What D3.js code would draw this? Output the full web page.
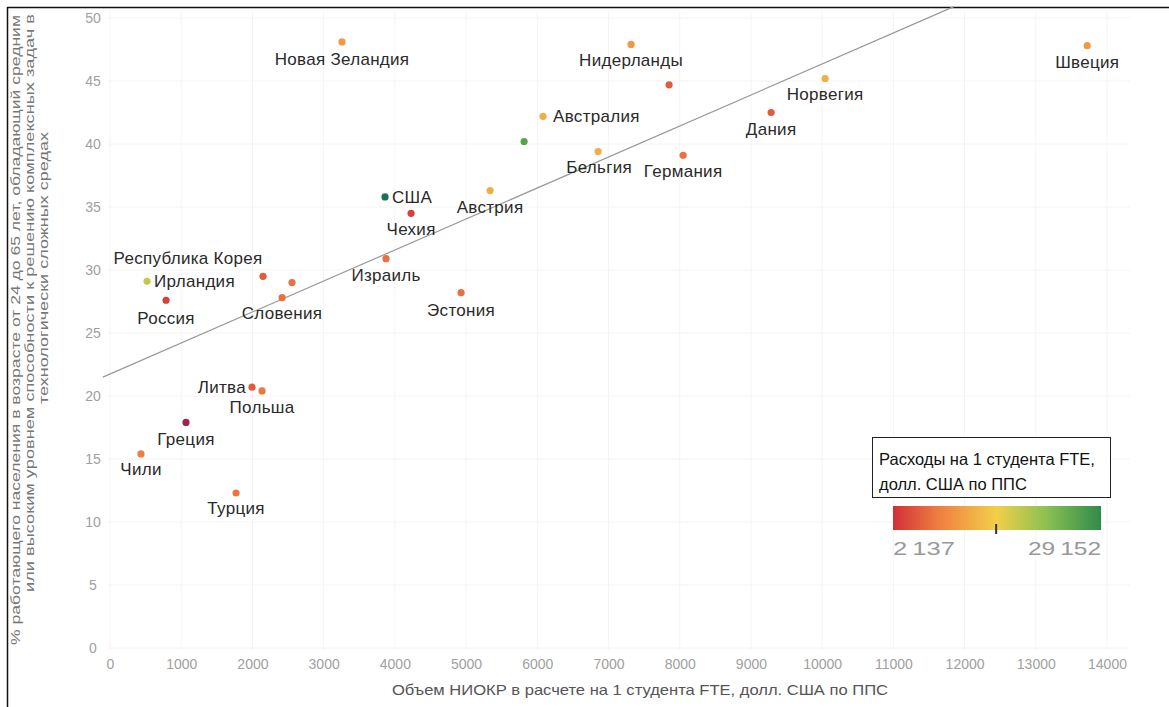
<!DOCTYPE html>
<html><head><meta charset="utf-8">
<script src="https://cdn.jsdelivr.net/npm/d3@7"></script>
<style>
html,body{margin:0;padding:0;background:#fff;}
svg{display:block;font-family:"Liberation Sans",Arial,sans-serif;}
</style></head>
<body>
<svg id="chart" width="1169" height="707"></svg>
<script>
// ---- data ----
const countries = ["Новая Зеландия","Нидерланды","Швеция","","Норвегия","Австралия","Дания","","Бельгия","Германия","Австрия","США","Чехия","Израиль","Эстония","Ирландия","Республика Корея","","Россия","Словения","Литва","Польша","Греция","Чили","Турция"];
const rdPerStudent = [3258,7317,13722,7851,10042,6081,9284,5815,6854,8048,5337,3862,4228,3876,4930,520,2149,2556,787,2416,1994,2135,1067,435,1770];
const skillShare  = [48.1,47.9,47.8,44.7,45.2,42.2,42.5,40.2,39.4,39.1,36.3,35.8,34.5,30.9,28.2,29.1,29.5,29.0,27.6,27.8,20.7,20.4,17.9,15.4,12.3];
const spending    = [10500,10500,10500,5500,12500,12500,5500,26000,12500,7000,12500,31000,3500,7000,7000,18500,5500,7000,3500,7000,5500,7500,1200,8000,7500];
const xTicks = [0,1000,2000,3000,4000,5000,6000,7000,8000,9000,10000,11000,12000,13000,14000];
const yTicks = [0,5,10,15,20,25,30,35,40,45,50];
const trendLine = [[-100,21.5],[11850,50.9]];
const legendRange = [2137, 29152];
const legendMarker = 15600;
const xTitle = "Объем НИОКР в расчете на 1 студента FTE, долл. США по ППС";
const yTitle = ["% работающего населения в возрасте от 24 до 65 лет, обладающий средним","или высоким уровнем способности к решению комплексных задач в","технологически сложных средах"];
const legendTitle = ["Расходы на 1 студента FTE,","долл. США по ППС"];

// label placement (layout): dx, dy(baseline), anchor
const labelLayout = [
 [0,23,"middle"],[0,22,"middle"],[0,22,"middle"],null,[0,22,"middle"],[10,6,"start"],[0,22,"middle"],null,
 [1,21,"middle"],[0,22,"middle"],[0,22,"middle"],[7,6,"start"],[0,22,"middle"],[0,22,"middle"],[0,23,"middle"],
 [7,6,"start"],[-75,-12,"middle"],null,[0,24,"middle"],[0,21,"middle"],[-6,6,"end"],[0,22,"middle"],[0,23,"middle"],[0,21,"middle"],[0,21,"middle"]
];
// y-title line layout: x position, center y, length
const yTitleLayout = [[20,330,630],[34,303,578],[48,268,272]];

const svg = d3.select("#chart");
const x = d3.scaleLinear().domain([0,14000]).range([110,1107]);
const y = d3.scaleLinear().domain([0,50]).range([648,18]);
const color = d3.scaleLinear()
  .domain([1000,2137,8000,15600,22000,29152,32000])
  .range(["#9b1b5a","#d12f36","#ef7d41","#f2cf49","#8cc152","#2f8b4c","#17605a"])
  .clamp(true);

// borders
svg.append("line").attr("x1",7).attr("x2",1169).attr("y1",7.5).attr("y2",7.5).attr("stroke","#111").attr("stroke-width",1.5);
svg.append("line").attr("x1",7.5).attr("x2",7.5).attr("y1",7).attr("y2",707).attr("stroke","#111").attr("stroke-width",1.5);

// grid
svg.append("g").selectAll("line").data(xTicks).join("line")
  .attr("x1",d=>x(d)).attr("x2",d=>x(d)).attr("y1",12).attr("y2",650)
  .attr("stroke","#f4f4f4");
svg.append("g").selectAll("line").data(yTicks).join("line")
  .attr("x1",108).attr("x2",1130).attr("y1",d=>y(d)).attr("y2",d=>y(d))
  .attr("stroke","#f4f4f4");

// axes
const xAxis = svg.append("g").attr("transform","translate(0,656)")
  .call(d3.axisBottom(x).tickValues(xTicks).tickFormat(d3.format("d")).tickSize(0));
xAxis.select(".domain").remove();
xAxis.selectAll("text").attr("fill","#a0a0a0").attr("font-size",14).attr("dy","0.71em").attr("font-family","Liberation Sans, Arial, sans-serif");
const yAxis = svg.append("g").attr("transform","translate(93,0)")
  .call(d3.axisLeft(y).tickValues(yTicks).tickSize(0));
yAxis.select(".domain").remove();
yAxis.selectAll("text").attr("fill","#a0a0a0").attr("font-size",14).attr("text-anchor","middle").attr("x",0).attr("dy","0.35em").attr("font-family","Liberation Sans, Arial, sans-serif");

// titles
svg.append("text").attr("x",640).attr("y",695).attr("text-anchor","middle")
  .attr("font-size",15).attr("fill","#555")
  .attr("textLength",496).attr("lengthAdjust","spacingAndGlyphs").text(xTitle);
yTitle.forEach((t,i)=>{
  const L = yTitleLayout[i];
  svg.append("text").attr("transform",`translate(${L[0]},${L[1]}) rotate(-90)`)
    .attr("x",-L[2]/2).attr("y",0).attr("font-size",13.5).attr("fill","#777")
    .attr("textLength",L[2]).attr("lengthAdjust","spacingAndGlyphs").text(t);
});

// trend line
svg.append("line")
  .attr("x1",x(trendLine[0][0])).attr("y1",y(trendLine[0][1]))
  .attr("x2",x(trendLine[1][0])).attr("y2",y(trendLine[1][1]))
  .attr("stroke","#999").attr("stroke-width",1.2);

// points
const pts = countries.map((c,i)=>({c, xv:rdPerStudent[i], yv:skillShare[i], s:spending[i], l:labelLayout[i]}));
svg.append("g").selectAll("circle").data(pts).join("circle")
  .attr("cx",d=>x(d.xv)).attr("cy",d=>y(d.yv)).attr("r",3.6)
  .attr("fill",d=>color(d.s));

svg.append("g").selectAll("text").data(pts.filter(d=>d.c && d.l)).join("text")
  .attr("x",d=>x(d.xv)+d.l[0]).attr("y",d=>y(d.yv)+d.l[1])
  .attr("text-anchor",d=>d.l[2]).attr("font-size",17).attr("letter-spacing",0.3).attr("fill","#2a2a2a")
  .text(d=>d.c);

// legend
const lg = svg.append("g");
lg.append("rect").attr("x",872.5).attr("y",437.5).attr("width",238).attr("height",60)
  .attr("fill","#fff").attr("stroke","#222").attr("stroke-width",1);
legendTitle.forEach((t,i)=>lg.append("text").attr("x",879).attr("y",465+i*25)
  .attr("font-size",16.5).attr("fill","#111").text(t));
const defs = svg.append("defs");
const grad = defs.append("linearGradient").attr("id","lgGrad");
const gStops = [2137,8000,15600,22000,29152];
gStops.forEach(v=>grad.append("stop")
  .attr("offset",(v-legendRange[0])/(legendRange[1]-legendRange[0]))
  .attr("stop-color",color(v)));
const lx = d3.scaleLinear().domain(legendRange).range([893,1101]);
lg.append("rect").attr("x",lx(legendRange[0])).attr("y",506).attr("width",lx(legendRange[1])-lx(legendRange[0])).attr("height",24)
  .attr("fill","url(#lgGrad)");
lg.append("line").attr("x1",lx(legendMarker)-0.5).attr("x2",lx(legendMarker)-0.5).attr("y1",524).attr("y2",534)
  .attr("stroke","#333").attr("stroke-width",2);
const fmt = v=>d3.format(",")(v).replace(",","\u2009");
lg.append("text").attr("x",lx(legendRange[0])).attr("y",555).attr("font-size",19).attr("fill","#999")
  .attr("textLength",62).attr("lengthAdjust","spacingAndGlyphs").text(fmt(legendRange[0]));
lg.append("text").attr("x",lx(legendRange[1])-73).attr("y",555).attr("font-size",19).attr("fill","#999")
  .attr("textLength",73).attr("lengthAdjust","spacingAndGlyphs").text(fmt(legendRange[1]));
</script>
</body></html>
